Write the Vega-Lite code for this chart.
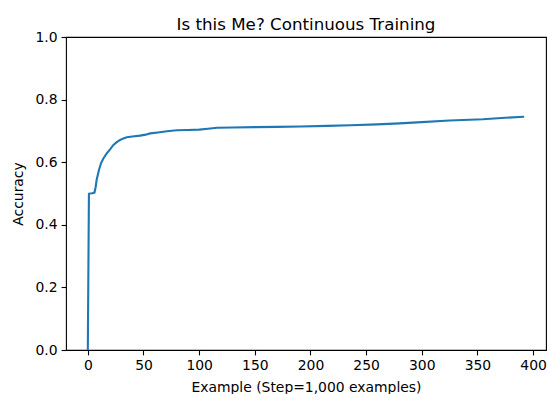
{
  "$schema": "https://vega.github.io/schema/vega-lite/v6.json",
  "autosize": {"type": "none"},
  "padding": {"left": 66, "top": 37, "right": 1, "bottom": 44},
  "width": 480,
  "height": 313,
  "background": "white",
  "title": {
    "text": "Is this Me? Continuous Training",
    "font": "DejaVu Sans",
    "fontSize": 16.7,
    "fontWeight": "normal",
    "color": "#000",
    "anchor": "middle",
    "offset": -4
  },
  "config": {
    "view": {"stroke": "#000", "strokeWidth": 1.1},
    "axis": {
      "domain": false,
      "grid": false,
      "labelFont": "DejaVu Sans",
      "labelFontSize": 13.9,
      "labelColor": "#000",
      "tickColor": "#000",
      "tickSize": 4.9,
      "tickWidth": 1.1,
      "labelPadding": 4,
      "titleFont": "DejaVu Sans",
      "titleFontSize": 13.9,
      "titleFontWeight": "normal",
      "titleColor": "#000"
    }
  },
  "data": {
    "values": [
      {"x": 0, "y": 0},
      {"x": 1, "y": 0.499},
      {"x": 2, "y": 0.5},
      {"x": 4, "y": 0.501},
      {"x": 6, "y": 0.503},
      {"x": 7, "y": 0.52},
      {"x": 8, "y": 0.545},
      {"x": 10, "y": 0.575},
      {"x": 12, "y": 0.598},
      {"x": 14, "y": 0.612},
      {"x": 17, "y": 0.628},
      {"x": 20, "y": 0.641},
      {"x": 23, "y": 0.655},
      {"x": 26, "y": 0.664},
      {"x": 29, "y": 0.671},
      {"x": 32, "y": 0.676},
      {"x": 35, "y": 0.68},
      {"x": 40, "y": 0.682},
      {"x": 47, "y": 0.685},
      {"x": 52, "y": 0.688},
      {"x": 56, "y": 0.692},
      {"x": 63, "y": 0.695},
      {"x": 71, "y": 0.699},
      {"x": 80, "y": 0.702},
      {"x": 90, "y": 0.703},
      {"x": 100, "y": 0.704},
      {"x": 108, "y": 0.707},
      {"x": 116, "y": 0.71},
      {"x": 130, "y": 0.711},
      {"x": 150, "y": 0.712},
      {"x": 170, "y": 0.713},
      {"x": 191, "y": 0.714},
      {"x": 215, "y": 0.716},
      {"x": 236, "y": 0.718},
      {"x": 260, "y": 0.721},
      {"x": 280, "y": 0.724},
      {"x": 300, "y": 0.728},
      {"x": 325, "y": 0.733},
      {"x": 355, "y": 0.737},
      {"x": 375, "y": 0.742},
      {"x": 392, "y": 0.745}
    ]
  },
  "mark": {"type": "line", "color": "#1f77b4", "strokeWidth": 2.1, "clip": true},
  "encoding": {
    "x": {
      "field": "x",
      "type": "quantitative",
      "scale": {"domain": [-19.6, 411.6], "nice": false, "zero": false},
      "axis": {"values": [0, 50, 100, 150, 200, 250, 300, 350, 400], "title": "Example (Step=1,000 examples)", "titlePadding": 8, "labelFlush": false}
    },
    "y": {
      "field": "y",
      "type": "quantitative",
      "scale": {"domain": [0, 1], "nice": false},
      "axis": {"values": [0, 0.2, 0.4, 0.6, 0.8, 1.0], "format": ".1f", "title": "Accuracy", "titlePadding": 10, "labelFlush": false}
    }
  }
}
